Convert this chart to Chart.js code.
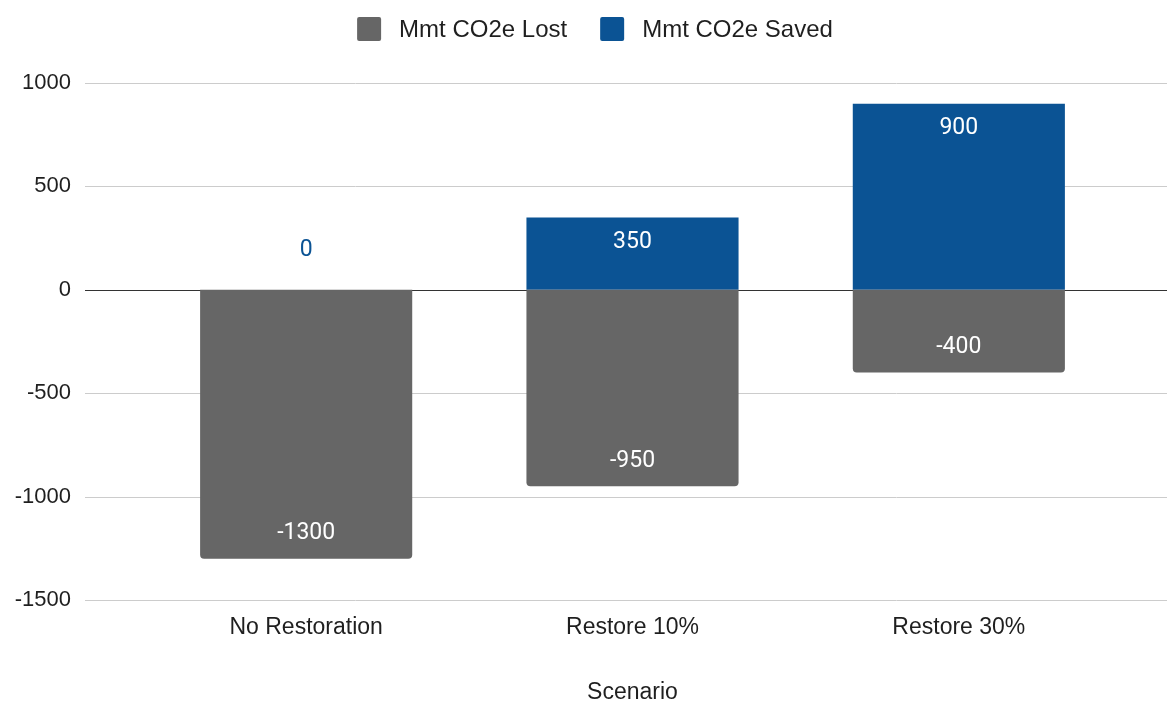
<!DOCTYPE html>
<html>
<head>
<meta charset="utf-8">
<title>Mmt CO2e by Scenario</title>
<script src="https://cdn.jsdelivr.net/npm/chart.js@4.4.1/dist/chart.umd.min.js"></script>
<style>
  html, body { margin: 0; padding: 0; background: #ffffff; }
</style>
</head>
<body>
<canvas id="scenarioChart" width="1167" height="702"></canvas>
<script>
// Scenario data (million metric tons CO2e)
const scenarios = ['No Restoration', 'Restore 10%', 'Restore 30%'];
const co2eLost = [-1300, -950, -400];
const co2eSaved = [0, 350, 900];
const yTicks = [-1500, -1000, -500, 0, 500, 1000];

const GREY = '#666666';
const BLUE = '#0b5394';
const TEXT = '#1f1f1f';

Chart.defaults.font.family = '"Liberation Sans", Arial, sans-serif';
Chart.defaults.color = TEXT;

// horizontal gridlines run wider than the plot area
const fullGrid = {
    id: 'fullGrid',
    beforeDatasetsDraw(chart) {
        const ctx = chart.ctx;
        const y = chart.scales.y;
        ctx.save();
        ctx.lineWidth = 1;
        y.ticks.forEach(t => {
            const py = Math.round(y.getPixelForValue(t.value)) + 0.5;
            ctx.strokeStyle = t.value === 0 ? '#333333' : '#cccccc';
            ctx.beginPath();
            ctx.moveTo(85, py);
            ctx.lineTo(chart.width, py);
            ctx.stroke();
        });
        ctx.restore();
    }
};

// value labels just inside the end of each bar
const barLabels = {
    id: 'barLabels',
    afterDatasetsDraw(chart) {
        const ctx = chart.ctx;
        const zeroY = chart.scales.y.getPixelForValue(0);
        ctx.save();
        ctx.font = '23px Roboto';
        ctx.textAlign = 'center';
        ctx.textBaseline = 'middle';
        chart.data.datasets.forEach((ds, i) => {
            chart.getDatasetMeta(i).data.forEach((bar, j) => {
                const v = ds.data[j];
                if (v === 0) {
                    // empty bar: label sits above the baseline in the series colour
                    ctx.fillStyle = ds.backgroundColor;
                    ctx.fillText(String(v), bar.x, zeroY - 40);
                } else {
                    ctx.fillStyle = '#ffffff';
                    ctx.fillText(String(v), bar.x, v < 0 ? bar.y - 25 : bar.y + 25);
                }
            });
        });
        ctx.restore();
    }
};

// legend row across the top
const topLegend = {
    id: 'topLegend',
    afterDraw(chart) {
        const ctx = chart.ctx;
        ctx.save();
        ctx.font = '24px "Liberation Sans", Arial, sans-serif';
        ctx.textBaseline = 'middle';
        const box = 24, gap = 18, spacing = 33, cy = 29;
        const items = chart.data.datasets.map(ds => ({
            text: ds.label,
            color: ds.backgroundColor,
            w: ctx.measureText(ds.label).width
        }));
        const total = items.reduce((s, it) => s + box + gap + it.w, 0) + spacing * (items.length - 1);
        let x = 595 - total / 2;
        items.forEach(it => {
            ctx.fillStyle = it.color;
            ctx.beginPath();
            ctx.roundRect(x, cy - box / 2, box, box, 2);
            ctx.fill();
            ctx.fillStyle = TEXT;
            ctx.fillText(it.text, x + box + gap, cy + 1);
            x += box + gap + it.w + spacing;
        });
        ctx.restore();
    }
};

const ctx = document.getElementById('scenarioChart').getContext('2d');
new Chart(ctx, {
    type: 'bar',
    data: {
        labels: scenarios,
        datasets: [{
            label: 'Mmt CO2e Lost',
            data: co2eLost,
            backgroundColor: GREY,
            borderRadius: 4,
            borderSkipped: 'start'
        }, {
            label: 'Mmt CO2e Saved',
            data: co2eSaved,
            backgroundColor: BLUE,
            borderRadius: 0
        }]
    },
    options: {
        responsive: false,
        animation: false,
        layout: {
            padding: { top: 83, right: 45, left: 0, bottom: 0 }
        },
        datasets: {
            bar: { barPercentage: 0.65, categoryPercentage: 1 }
        },
        scales: {
            x: {
                stacked: true,
                grid: { display: false },
                border: { display: false },
                ticks: { font: { size: 23 }, padding: 6 },
                title: {
                    display: true,
                    text: 'Scenario',
                    font: { size: 23, lineHeight: 0.85 },
                    padding: { top: 0, bottom: 0 }
                },
                afterFit(scale) { scale.height = 102; }
            },
            y: {
                stacked: true,
                min: yTicks[0],
                max: yTicks[yTicks.length - 1],
                grid: { display: false, drawTicks: false },
                border: { display: false },
                ticks: {
                    stepSize: yTicks[1] - yTicks[0],
                    font: { size: 22 },
                    padding: 72,
                    callback: value => String(value)
                },
                afterFit(scale) {
                    // the wide label padding shouldn't push the plot area down
                    scale.width = 143;
                    scale.paddingTop = 0;
                    scale.paddingBottom = 0;
                }
            }
        },
        plugins: {
            legend: { display: false },
            tooltip: { enabled: false }
        }
    },
    plugins: [fullGrid, barLabels, topLegend]
});
</script>
</body>
</html>
